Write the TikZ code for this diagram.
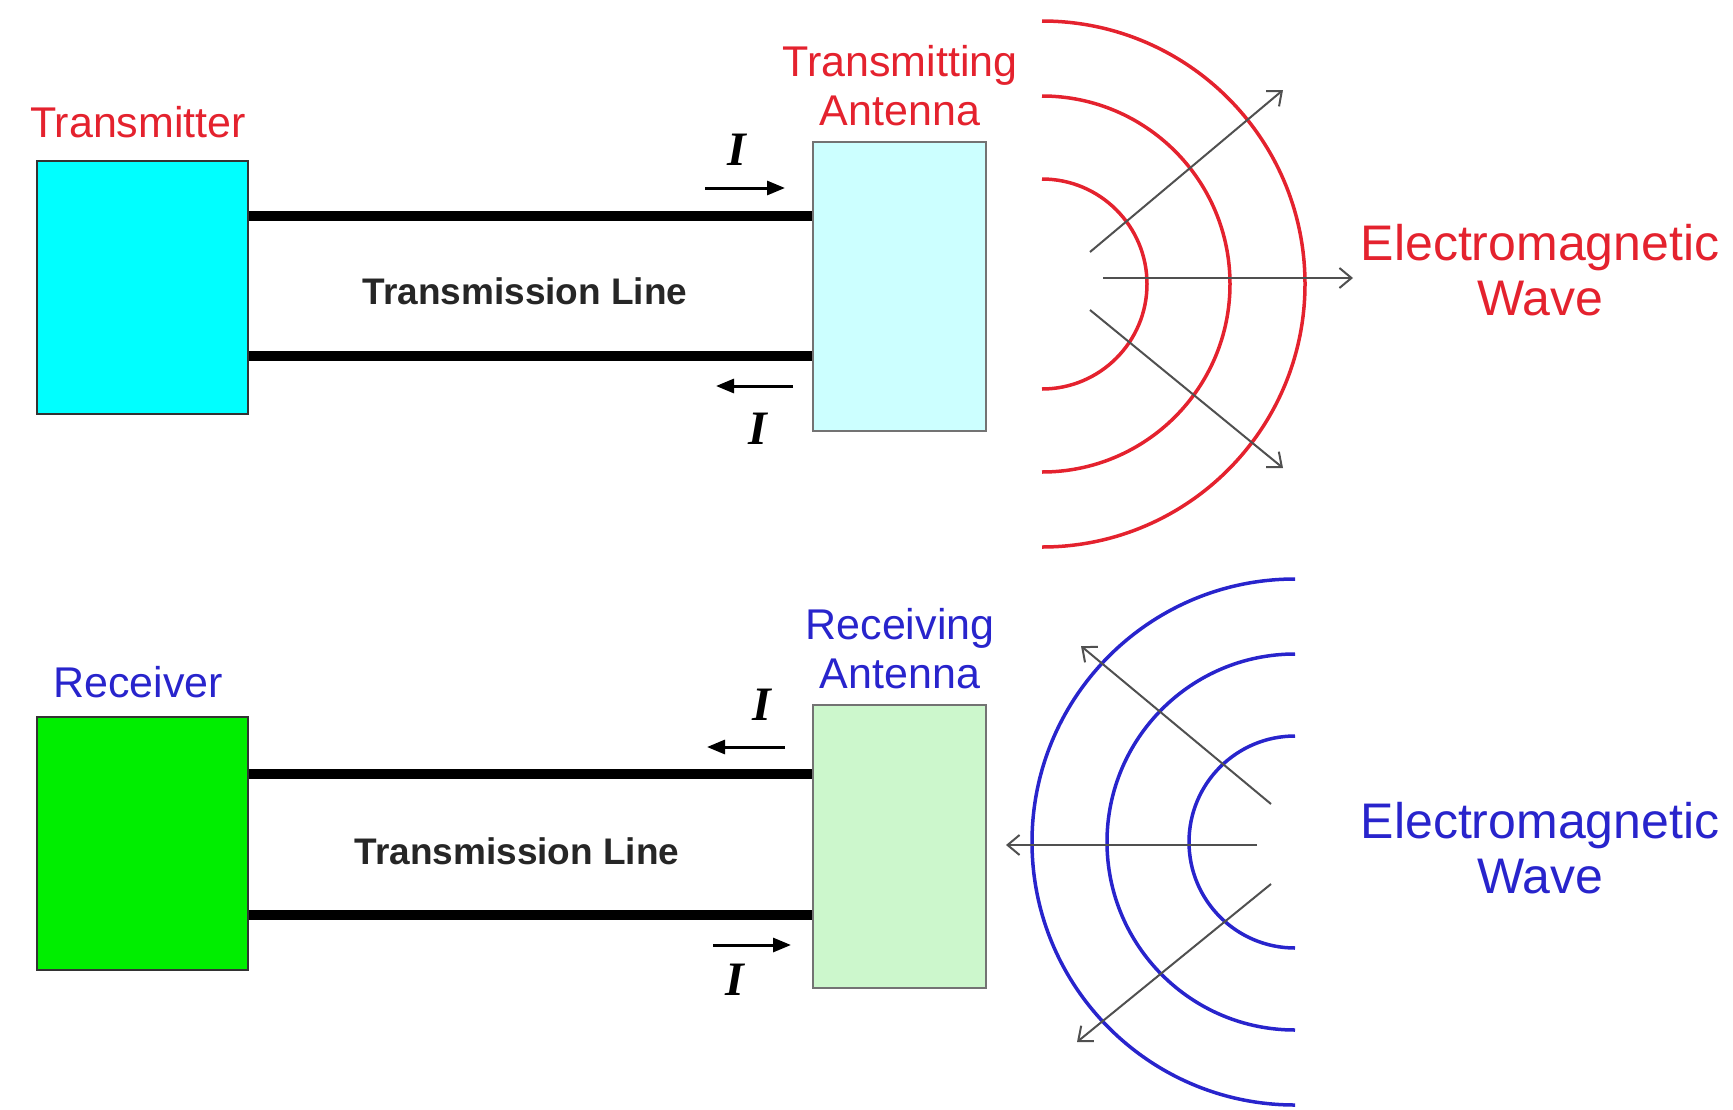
\documentclass[tikz,border=0pt]{standalone}
\usepackage{fontspec}
\setmainfont{Liberation Sans}
\newfontfamily\iserif{Liberation Serif}
\usetikzlibrary{arrows.meta}
\definecolor{wred}{RGB}{228,34,46}
\definecolor{wblue}{RGB}{40,36,204}
\definecolor{tcyan}{RGB}{0,255,255}
\definecolor{acyan}{RGB}{204,255,255}
\definecolor{rgreen}{RGB}{0,238,0}
\definecolor{agreen}{RGB}{204,247,204}
\definecolor{emgray}{RGB}{80,80,80}
\tikzset{
  box/.style={draw=black!80, line width=1.8pt, inner sep=0pt, minimum width=211pt, minimum height=253pt},
  antbox/.style={draw=black!55, line width=1.8pt, inner sep=0pt, minimum width=173pt},
  lbl/.style={inner sep=0pt, font=\fontsize{43}{49}\selectfont, align=center},
  emlbl/.style={inner sep=0pt, font=\fontsize{50}{55}\selectfont, align=center},
  tline/.style={line width=10pt},
  tlbl/.style={inner sep=0pt, font=\fontsize{37}{40}\selectfont\bfseries, text=black!85},
  ilbl/.style={inner sep=0pt, font=\fontsize{48}{50}\selectfont\iserif\bfseries\itshape},
  iarrow/.style={line width=3pt, -{Triangle[length=18pt,width=14pt]}},
  emarrow/.style={line width=2pt, emgray, -{Straight Barb[length=12pt,width=20pt,line width=2pt]}},
  wave/.style={line width=3.5pt},
}
\begin{document}
\begin{tikzpicture}[x=1pt,y=-1pt]
\useasboundingbox (0,0) rectangle (1733,1109);
% ---------- top half ----------
\node[box, fill=tcyan, anchor=north west] (tx) at (36,160) {};
\node[antbox, fill=acyan, minimum height=289pt, anchor=north west] (tant) at (812,141) {};
\node[lbl, text=wred] (txl) at (138,122) {Transmitter};
\node[lbl, text=wred] (tantl) at (900,86) {Transmitting\\Antenna};
\coordinate (ya) at (0,216);
\coordinate (yb) at (0,356);
\draw[tline] (tx.east |- ya) -- (tant.west |- ya);
\draw[tline] (tx.east |- yb) -- (tant.west |- yb);
\node[tlbl] (ttl) at (525,291) {Transmission Line};
\coordinate (ia1) at (705,188); \coordinate (ia2) at (785,188);
\draw[iarrow] (ia1) -- (ia2);
\node[ilbl] (i1) at (737,150) {I};
\coordinate (ib1) at (793,386); \coordinate (ib2) at (716,386);
\draw[iarrow] (ib1) -- (ib2);
\node[ilbl] (i2) at (758,429) {I};
% red waves
\coordinate (tc) at (1042,284);
\foreach \r in {105,188,263}{
  \draw[wave, wred] ([yshift=-\r pt]tc) arc[start angle=90, end angle=-90, radius=\r];
}
\coordinate (e1s) at (1090,252); \coordinate (e1e) at (1283,90);
\coordinate (e2s) at (1103,278); \coordinate (e2e) at (1353,278);
\coordinate (e3s) at (1090,310); \coordinate (e3e) at (1283,468);
\draw[emarrow] (e1s) -- (e1e);
\draw[emarrow] (e2s) -- (e2e);
\draw[emarrow] (e3s) -- (e3e);
\node[emlbl, text=wred] (tem) at (1540,270) {Electromagnetic\\Wave};
% ---------- bottom half ----------
\node[box, fill=rgreen, anchor=north west] (rx) at (36,716) {};
\node[antbox, fill=agreen, minimum height=283pt, anchor=north west] (rant) at (812,704) {};
\node[lbl, text=wblue] (rxl) at (138,682) {Receiver};
\node[lbl, text=wblue] (rantl) at (900,649) {Receiving\\Antenna};
\coordinate (yc) at (0,774);
\coordinate (yd) at (0,915);
\draw[tline] (rx.east |- yc) -- (rant.west |- yc);
\draw[tline] (rx.east |- yd) -- (rant.west |- yd);
\node[tlbl] (rtl) at (517,851) {Transmission Line};
\coordinate (ic1) at (785,747); \coordinate (ic2) at (707,747);
\draw[iarrow] (ic1) -- (ic2);
\node[ilbl] (i3) at (762,705) {I};
\coordinate (id1) at (713,945); \coordinate (id2) at (791,945);
\draw[iarrow] (id1) -- (id2);
\node[ilbl] (i4) at (735,980) {I};
% blue waves
\coordinate (bc) at (1295,842);
\foreach \r in {106,188,263}{
  \draw[wave, wblue] ([yshift=-\r pt]bc) arc[start angle=90, end angle=270, radius=\r];
}
\coordinate (f1s) at (1271,804); \coordinate (f1e) at (1081,646);
\coordinate (f2s) at (1257,845); \coordinate (f2e) at (1006,845);
\coordinate (f3s) at (1271,884); \coordinate (f3e) at (1077,1042);
\draw[emarrow] (f1s) -- (f1e);
\draw[emarrow] (f2s) -- (f2e);
\draw[emarrow] (f3s) -- (f3e);
\node[emlbl, text=wblue] (rem) at (1540,848) {Electromagnetic\\Wave};
\end{tikzpicture}
\end{document}
